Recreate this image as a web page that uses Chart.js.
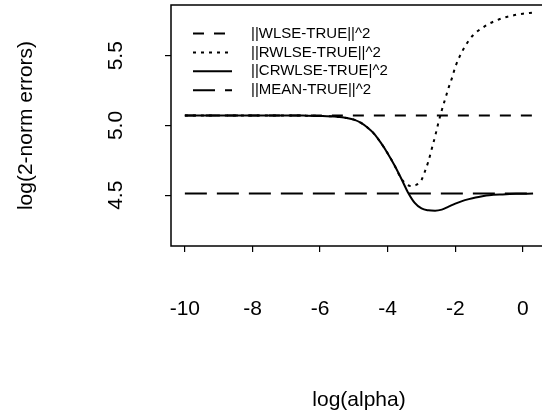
<!DOCTYPE html>
<html>
<head>
<meta charset="utf-8">
<script src="https://cdn.jsdelivr.net/npm/chart.js@4.4.0/dist/chart.umd.min.js"></script>
<style>
html, body { margin: 0; padding: 0; overflow: hidden; background: #fff; }
</style>
</head>
<body>
<canvas id="errChart" width="560" height="413"></canvas>
<script>
// values (x = log(alpha))
var wlseX = [-10, 0.3];
var wlseY = [5.072, 5.072];

var rwlseX = [-10, -9, -8, -7, -6.5, -6, -5.5, -5.2, -5.0, -4.8,
              -4.6, -4.4, -4.2, -4.0, -3.8, -3.6, -3.45, -3.3, -3.15, -3.0,
              -2.9, -2.8, -2.7, -2.6, -2.5, -2.4, -2.3, -2.2, -2.1, -2.0,
              -1.9, -1.8, -1.6, -1.4, -1.2, -1.0, -0.8, -0.6, -0.4, -0.2,
              0, 0.3];
var rwlseY = [5.072, 5.072, 5.072, 5.072, 5.071, 5.069, 5.063, 5.053, 5.042, 5.02,
              4.985, 4.94, 4.875, 4.80, 4.715, 4.62, 4.58, 4.565, 4.575, 4.61,
              4.67, 4.74, 4.83, 4.92, 5.02, 5.11, 5.19, 5.27, 5.34, 5.42,
              5.48, 5.53, 5.61, 5.665, 5.70, 5.73, 5.752, 5.77, 5.783, 5.794,
              5.802, 5.81];

var crwlseX = [-10, -9, -8, -7, -6.5, -6, -5.5, -5.2, -5.0, -4.8,
               -4.6, -4.4, -4.2, -4.0, -3.8, -3.6, -3.4, -3.2, -3.0, -2.8,
               -2.6, -2.4, -2.2, -2.0, -1.8, -1.6, -1.4, -1.2, -1.0, -0.6,
               -0.2, 0.3];
var crwlseY = [5.072, 5.072, 5.072, 5.072, 5.071, 5.069, 5.063, 5.053, 5.042, 5.02,
               4.985, 4.94, 4.875, 4.80, 4.715, 4.62, 4.52, 4.445, 4.405, 4.392,
               4.389, 4.397, 4.418, 4.44, 4.458, 4.472, 4.484, 4.493, 4.50, 4.506,
               4.51, 4.512];

var meanX = [-10, 0.3];
var meanY = [4.512, 4.512];

var xTicks = [-10, -8, -6, -4, -2, 0];
var xTickLabels = ['-10', '-8', '-6', '-4', '-2', '0'];
var yTicks = [4.5, 5.0, 5.5];
var yTickLabels = ['4.5', '5.0', '5.5'];

function pts(xs, ys) {
    return xs.map(function (x, i) { return {x: x, y: ys[i]}; });
}

Chart.defaults.font.family = '"Liberation Sans", Arial, Helvetica, sans-serif';
Chart.defaults.color = '#000';

// box round the plot region (right edge is cut off like the original)
var frame = {
    id: 'frame',
    afterDatasetsDraw: function (chart) {
        var a = chart.chartArea, ctx = chart.ctx;
        ctx.save();
        ctx.strokeStyle = '#000';
        ctx.lineWidth = 1.5;
        ctx.strokeRect(a.left, a.top, a.right - a.left, a.bottom - a.top);
        ctx.restore();
    }
};

// R-style legend: line sample + label, top left inside the box
var legendLines = {
    id: 'legendLines',
    afterDraw: function (chart) {
        var a = chart.chartArea, ctx = chart.ctx;
        ctx.save();
        ctx.font = '15px "Liberation Sans", Arial, sans-serif';
        ctx.textBaseline = 'middle';
        ctx.fillStyle = '#000';
        ctx.strokeStyle = '#000';
        chart.data.datasets.forEach(function (ds, i) {
            var y = a.top + 28.5 + i * 18.9;
            ctx.lineWidth = ds.borderWidth;
            ctx.setLineDash(ds.borderDash || []);
            ctx.beginPath();
            ctx.moveTo(a.left + 22, y);
            ctx.lineTo(a.left + 61, y);
            ctx.stroke();
            ctx.setLineDash([]);
            ctx.fillText(ds.label, a.left + 80, y);
        });
        ctx.restore();
    }
};

var tickGrid = {
    drawOnChartArea: false,
    drawTicks: true,
    tickLength: 6,
    color: '#000',
    lineWidth: 1.2
};

var ctx = document.getElementById('errChart');
var errChart = new Chart(ctx, {
    type: 'line',
    data: {
        datasets: [{
            label: '||WLSE-TRUE||^2',
            data: pts(wlseX, wlseY),
            borderColor: '#000',
            borderWidth: 2,
            borderDash: [11, 10]
        }, {
            label: '||RWLSE-TRUE||^2',
            data: pts(rwlseX, rwlseY),
            borderColor: '#000',
            borderWidth: 2,
            borderDash: [3, 5]
        }, {
            label: '||CRWLSE-TRUE|^2',
            data: pts(crwlseX, crwlseY),
            borderColor: '#000',
            borderWidth: 2
        }, {
            label: '||MEAN-TRUE||^2',
            data: pts(meanX, meanY),
            borderColor: '#000',
            borderWidth: 2,
            borderDash: [22, 10]
        }]
    },
    options: {
        responsive: false,
        animation: false,
        cubicInterpolationMode: 'monotone',
        elements: {
            point: { radius: 0 },
            line: { fill: false, cubicInterpolationMode: 'monotone' }
        },
        layout: { padding: { top: 5, right: 13, left: 0, bottom: 0 } },
        plugins: {
            legend: { display: false },
            tooltip: { enabled: false }
        },
        scales: {
            x: {
                type: 'linear',
                min: -10.41,
                max: 0.712,
                afterBuildTicks: function (s) {
                    s.ticks = xTicks.map(function (v) { return {value: v}; });
                },
                afterFit: function (s) {
                    s.height = 167;
                    s.paddingLeft = 0;
                    s.paddingRight = 0;
                },
                ticks: {
                    autoSkip: false,
                    maxRotation: 0,
                    padding: 45,
                    font: { size: 21 },
                    callback: function (v, i) { return xTickLabels[i]; }
                },
                grid: tickGrid,
                border: { display: false },
                title: {
                    display: true,
                    text: 'log(alpha)',
                    font: { size: 21 },
                    padding: { top: 0, bottom: 0 }
                }
            },
            y: {
                type: 'linear',
                min: 4.136,
                max: 5.864,
                afterBuildTicks: function (s) {
                    s.ticks = yTicks.map(function (v) { return {value: v}; });
                },
                afterFit: function (s) {
                    s.width = 171;
                    s.paddingTop = 0;
                    s.paddingBottom = 0;
                },
                ticks: {
                    autoSkip: false,
                    minRotation: 90,
                    maxRotation: 90,
                    crossAlign: 'center',
                    padding: 34,
                    font: { size: 21 },
                    callback: function (v, i) { return yTickLabels[i]; }
                },
                grid: tickGrid,
                border: { display: false },
                title: {
                    display: true,
                    text: 'log(2-norm errors)',
                    font: { size: 21 },
                    padding: { top: 14, bottom: 0 }
                }
            }
        }
    },
    plugins: [frame, legendLines]
});
</script>
</body>
</html>
